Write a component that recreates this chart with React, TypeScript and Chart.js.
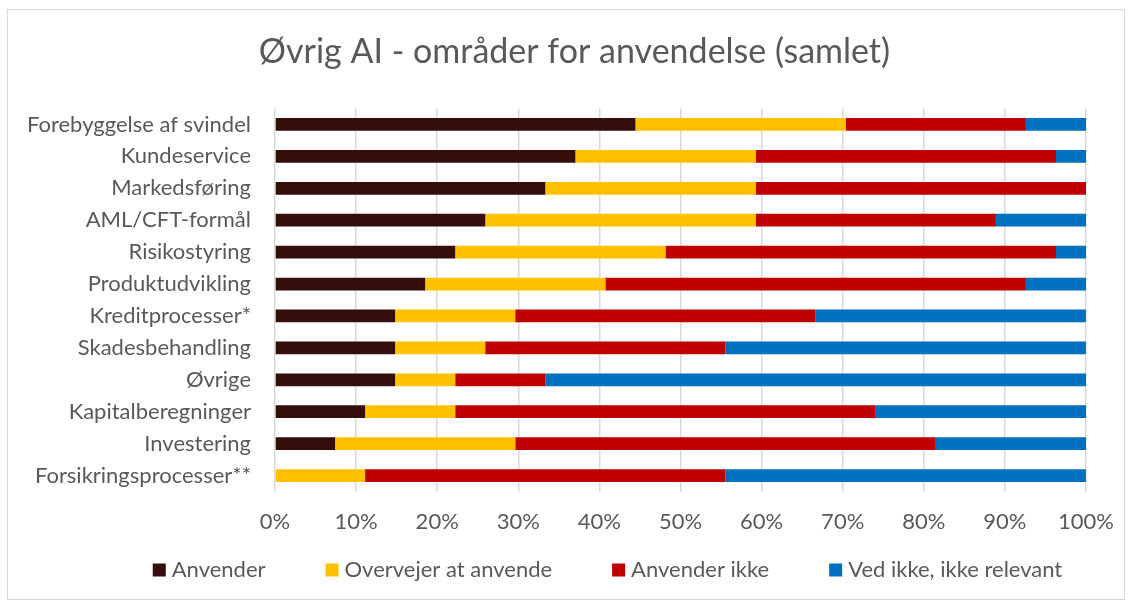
import React, { useEffect, useRef } from "react";
import { Chart, registerables } from "chart.js";

Chart.register(...registerables);

const FONT = "Lato, 'Open Sans', sans-serif";
const TEXT_COLOR = "#595959";

const TITLE = "Øvrig AI - områder for anvendelse (samlet)";

const categories = [
  "Forebyggelse af svindel",
  "Kundeservice",
  "Markedsføring",
  "AML/CFT-formål",
  "Risikostyring",
  "Produktudvikling",
  "Kreditprocesser*",
  "Skadesbehandling",
  "Øvrige",
  "Kapitalberegninger",
  "Investering",
  "Forsikringsprocesser**",
];

const seriesNames = [
  "Anvender",
  "Overvejer at anvende",
  "Anvender ikke",
  "Ved ikke, ikke relevant",
];

const seriesColors = ["#350D0B", "#FFC000", "#C00000", "#0070C0"];

const anvender = [44.44, 37.04, 33.33, 25.93, 22.22, 18.52, 14.81, 14.81, 14.81, 11.11, 7.41, 0];
const overvejer = [25.93, 22.22, 25.93, 33.33, 25.93, 22.22, 14.81, 11.11, 7.41, 11.11, 22.22, 11.11];
const anvenderIkke = [22.22, 37.04, 40.74, 29.63, 48.15, 51.85, 37.04, 29.63, 11.11, 51.85, 51.85, 44.44];
const vedIkke = [7.41, 3.7, 0, 11.11, 3.7, 7.41, 33.33, 44.44, 66.67, 25.93, 18.52, 44.44];

const xTicks = [0, 10, 20, 30, 40, 50, 60, 70, 80, 90, 100];

const LABEL_SIZE = 22;
const TITLE_SIZE = 34;
const TITLE_CX = 574.5;
const TITLE_BASELINE = 63;
const LEGEND_CX = 607.5;
const LEGEND_BASELINE = 577;

const titleAndLegend = {
  id: "titleAndLegend",
  afterDraw(chart: any) {
    const ctx = chart.ctx;
    ctx.save();
    // title
    ctx.font = `${TITLE_SIZE}px ${FONT}`;
    ctx.fillStyle = TEXT_COLOR;
    ctx.textAlign = "center";
    ctx.textBaseline = "alphabetic";
    ctx.fillText(TITLE, TITLE_CX, TITLE_BASELINE);

    // legend
    ctx.font = `${LABEL_SIZE}px ${FONT}`;
    const box = 13;
    const gap = 6;
    const spacing = 60;
    const items = chart.data.datasets.map((d: any) => ({
      label: d.label,
      color: d.backgroundColor,
      w: ctx.measureText(d.label).width,
    }));
    const total =
      items.reduce((s: number, it: any) => s + box + gap + it.w, 0) +
      spacing * (items.length - 1);
    let x = LEGEND_CX - total / 2;
    ctx.textAlign = "left";
    items.forEach((it: any) => {
      ctx.fillStyle = it.color;
      ctx.fillRect(x, LEGEND_BASELINE - box - 0.5, box, box);
      ctx.fillStyle = TEXT_COLOR;
      ctx.fillText(it.label, x + box + gap, LEGEND_BASELINE);
      x += box + gap + it.w + spacing;
    });
    ctx.restore();
  },
};

export default function App() {
  const canvasRef = useRef<HTMLCanvasElement | null>(null);

  useEffect(() => {
    document.body.style.margin = "0";
    const canvas = canvasRef.current;
    if (!canvas) return;
    const values = [anvender, overvejer, anvenderIkke, vedIkke];
    const chart = new Chart(canvas, {
      type: "bar",
      data: {
        labels: categories,
        datasets: seriesNames.map((name, i) => ({
          label: name,
          data: values[i],
          backgroundColor: seriesColors[i],
          borderWidth: 0,
          barPercentage: 0.4,
          categoryPercentage: 1,
        })),
      },
      plugins: [titleAndLegend],
      options: {
        indexAxis: "y",
        animation: false,
        responsive: false,
        maintainAspectRatio: false,
        layout: {
          padding: { top: 108.5, left: 10, right: 46, bottom: 54.5 },
        },
        plugins: {
          legend: { display: false },
          tooltip: { enabled: false },
          title: { display: false },
        },
        scales: {
          x: {
            stacked: true,
            min: 0,
            max: 100,
            afterBuildTicks: (scale: any) => {
              scale.ticks = xTicks.map((v) => ({ value: v }));
            },
            ticks: {
              color: TEXT_COLOR,
              font: { family: FONT, size: LABEL_SIZE },
              padding: 17.3,
              maxRotation: 0,
              callback: (v: any) => `${v}%`,
            },
            grid: { color: "#d9d9d9", lineWidth: 1.5, drawTicks: false },
            border: { display: false },
          },
          y: {
            stacked: true,
            afterFit: (scale: any) => {
              scale.width = 275 - 10;
            },
            ticks: {
              color: TEXT_COLOR,
              font: { family: FONT, size: LABEL_SIZE },
              padding: 24,
            },
            grid: { display: false, drawTicks: false },
            border: { display: false },
          },
        },
      },
    });
    return () => chart.destroy();
  }, []);

  return (
    <div style={{ position: "absolute", left: 0, top: 0, width: 1132, height: 607, background: "#fff" }}>
      <canvas ref={canvasRef} width={1132} height={607} style={{ display: "block" }} />
      <div
        style={{
          position: "absolute",
          left: 7,
          top: 9,
          width: 1116,
          height: 589,
          border: "1px solid #d9d9d9",
          pointerEvents: "none",
        }}
      />
    </div>
  );
}
